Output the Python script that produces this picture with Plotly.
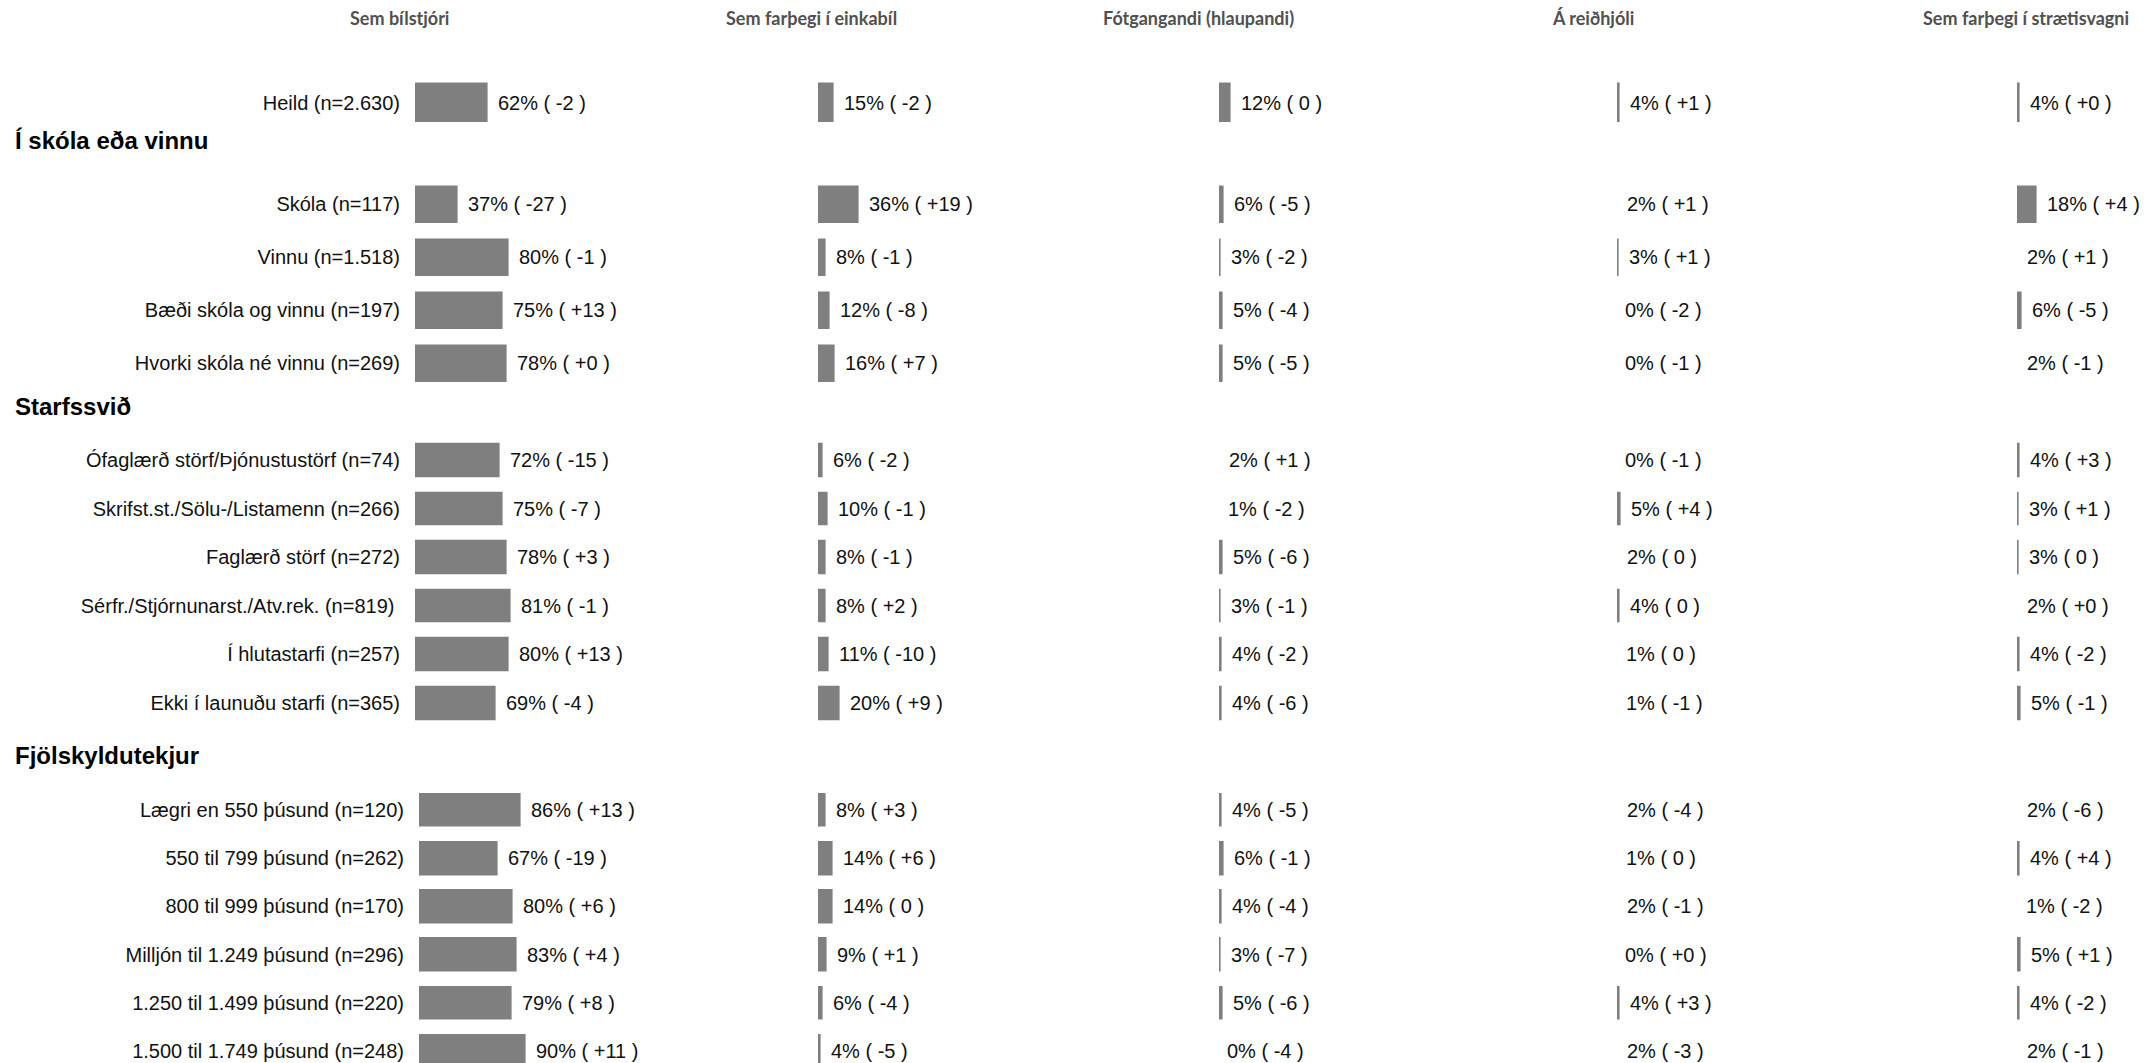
import plotly.graph_objects as go

W, H = 2149, 1063

# ---------------- data ----------------
columns = ["Sem bílstjóri", "Sem farþegi í einkabíl", "Fótgangandi (hlaupandi)",
           "Á reiðhjóli", "Sem farþegi í strætisvagni"]

section_titles = ["", "Í skóla eða vinnu", "Starfssvið", "Fjölskyldutekjur"]

cats_total = ["Heild (n=2.630)"]
cats_school = ["Skóla (n=117)", "Vinnu (n=1.518)", "Bæði skóla og vinnu (n=197)",
               "Hvorki skóla né vinnu (n=269)"]
cats_job = ["Ófaglærð störf/Þjónustustörf (n=74)", "Skrifst.st./Sölu-/Listamenn (n=266)",
            "Faglærð störf (n=272)", "Sérfr./Stjórnunarst./Atv.rek. (n=819) ",
            "Í hlutastarfi (n=257)", "Ekki í launuðu starfi (n=365)"]
cats_income = ["Lægri en 550 þúsund (n=120)", "550 til 799 þúsund (n=262)",
               "800 til 999 þúsund (n=170)", "Milljón til 1.249 þúsund (n=296)",
               "1.250 til 1.499 þúsund (n=220)", "1.500 til 1.749 þúsund (n=248)"]

pct_driver = [62, 37, 80, 75, 78, 72, 75, 78, 81, 80, 69, 86, 67, 80, 83, 79, 90]
chg_driver = ["-2", "-27", "-1", "+13", "+0", "-15", "-7", "+3", "-1", "+13", "-4",
              "+13", "-19", "+6", "+4", "+8", "+11"]
pct_car = [15, 36, 8, 12, 16, 6, 10, 8, 8, 11, 20, 8, 14, 14, 9, 6, 4]
chg_car = ["-2", "+19", "-1", "-8", "+7", "-2", "-1", "-1", "+2", "-10", "+9",
           "+3", "+6", "0", "+1", "-4", "-5"]
pct_walk = [12, 6, 3, 5, 5, 2, 1, 5, 3, 4, 4, 4, 6, 4, 3, 5, 0]
chg_walk = ["0", "-5", "-2", "-4", "-5", "+1", "-2", "-6", "-1", "-2", "-6",
            "-5", "-1", "-4", "-7", "-6", "-4"]
pct_bike = [4, 2, 3, 0, 0, 0, 5, 2, 4, 1, 1, 2, 1, 2, 0, 4, 2]
chg_bike = ["+1", "+1", "+1", "-2", "-1", "-1", "+4", "0", "0", "0", "-1",
            "-4", "0", "-1", "+0", "+3", "-3"]
pct_bus = [4, 18, 2, 6, 2, 4, 3, 3, 2, 4, 5, 2, 4, 1, 5, 4, 2]
chg_bus = ["+0", "+4", "+1", "-5", "-1", "+3", "+1", "0", "+0", "-2", "-1",
           "-6", "+4", "-2", "+1", "-2", "-1"]

# ---------------- layout geometry (pixels) ----------------
section_cats = [cats_total, cats_school, cats_job, cats_income]
col_pcts = [pct_driver, pct_car, pct_walk, pct_bike, pct_bus]
col_chgs = [chg_driver, chg_car, chg_walk, chg_bike, chg_bus]

sec_first_center = [102.5, 204, 460, 810]
sec_step = [52, 53, 48.6, 48.2]
sec_bar_h = [42.5, 40, 36.5, 36.5]
sec_title_y = [None, 141, 406, 755]

col_zero = [414, 817, 1218, 1616, 2016]
income_shift = 4
PX_PER_PCT = 1.206
L = 129
header_x = [399, 811, 1199, 1593, 2026]
header_y = 18

BAR = "#7f7f7f"
TXT = "#111111"
FONT = "Liberation Sans, Arial, sans-serif"

fig = go.Figure()
layout = {}
annotations = []

k = 0
start = 0
for si, cats in enumerate(section_cats):
    n = len(cats)
    top = sec_first_center[si] - sec_step[si] / 2
    bot = min(H, top + n * sec_step[si])
    rng_bottom = -0.5 + (bot - top) / sec_step[si]
    for ci in range(5):
        k += 1
        sfx = "" if k == 1 else str(k)
        xa, ya = "x" + sfx, "y" + sfx
        vals = col_pcts[ci][start:start + n]
        chgs = col_chgs[ci][start:start + n]
        fig.add_trace(go.Bar(
            x=vals, y=cats, orientation="h", xaxis=xa, yaxis=ya,
            width=sec_bar_h[si] / sec_step[si],
            marker=dict(color=BAR, line=dict(color="white", width=2.4)),
            hoverinfo="skip", showlegend=False))
        x0 = col_zero[ci] + (income_shift if (ci == 0 and si == 3) else 0)
        layout["xaxis" + sfx] = dict(domain=[x0 / W, (x0 + L) / W],
                                     range=[0, L / PX_PER_PCT], anchor=ya,
                                     visible=False, fixedrange=True)
        layout["yaxis" + sfx] = dict(domain=[1 - bot / H, 1 - top / H], anchor=xa,
                                     type="category", categoryorder="array",
                                     categoryarray=cats,
                                     range=[rng_bottom, -0.5],
                                     showticklabels=(ci == 0), showline=False,
                                     showgrid=False, zeroline=False, ticks="",
                                     ticklabelstandoff=13,
                                     tickfont=dict(family=FONT, size=20, color=TXT),
                                     fixedrange=True)
        for v, c, cat in zip(vals, chgs, cats):
            annotations.append(dict(x=v, y=cat, xref=xa, yref=ya,
                                    text=f"{v}% ( {c} )", showarrow=False,
                                    xanchor="left", yanchor="middle", xshift=7,
                                    font=dict(family=FONT, size=20, color=TXT)))
    start += n

for si, t in enumerate(section_titles):
    if t:
        annotations.append(dict(x=13 / W, y=1 - sec_title_y[si] / H, xref="paper",
                                yref="paper", text=f"<b>{t}</b>", showarrow=False,
                                xanchor="left", yanchor="middle",
                                font=dict(family=FONT, size=24, color="#000000")))

for ci, t in enumerate(columns):
    annotations.append(dict(x=header_x[ci] / W, y=1 - header_y / H, xref="paper",
                            yref="paper", text=f"<b>{t}</b>", showarrow=False,
                            xanchor="center", yanchor="middle",
                            font=dict(family="Lato, sans-serif", size=18, color="#505050")))

fig.update_layout(**layout)
fig.update_layout(width=W, height=H, margin=dict(l=0, r=0, t=0, b=0),
                  paper_bgcolor="white", plot_bgcolor="white",
                  annotations=annotations, showlegend=False, bargap=0)

fig.write_html("out.html", config={"displayModeBar": False},
               post_script="document.body.style.margin='0';document.body.style.overflow='hidden';")
